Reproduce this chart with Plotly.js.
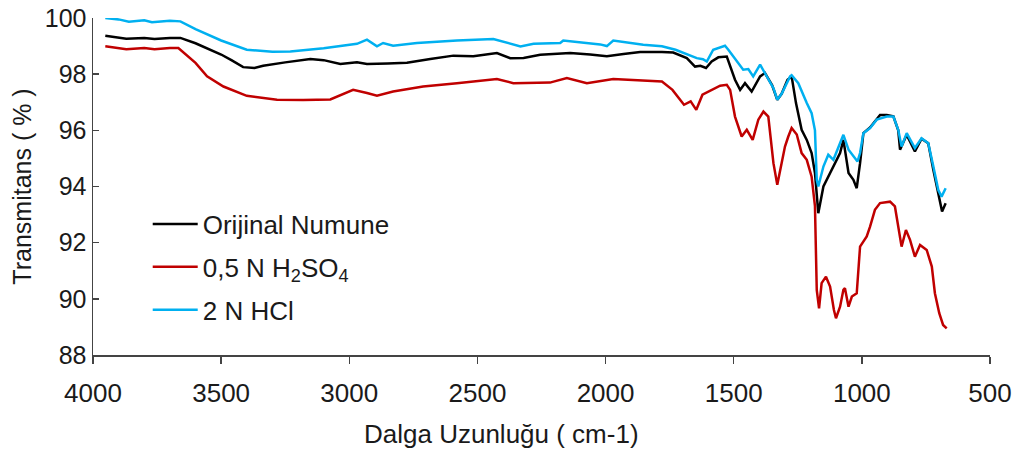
<!DOCTYPE html>
<html>
<head>
<meta charset="utf-8">
<script src="https://cdn.plot.ly/plotly-3.0.1.min.js"></script>
<style>html,body{margin:0;padding:0;background:#fff;}#chart{width:1013px;height:454px;}</style>
</head>
<body>
<div id="chart"></div>
<script>
// Orijinal Numune
const wnBlack = [3952,3900,3870,3800,3760,3700,3659,3600,3540,3500,3460,3414,3370,3336,3250,3152,3100,3035,2970,2931,2850,2775,2684,2594,2516,2424,2372,2320,2255,2138,2060,1995,1930,1865,1780,1736,1683,1651,1630,1608,1586,1560,1527,1514,1495,1475,1456,1430,1397,1378,1350,1330,1313,1290,1274,1257,1235,1215,1196,1183,1170,1150,1131,1111,1085,1072,1052,1033,1020,1007,994,968,942,929,903,877,858,851,825,793,767,741,721,698,687,673];
const tBlack  = [99.37,99.3,99.26,99.29,99.25,99.29,99.29,99.1,98.85,98.7,98.5,98.25,98.22,98.3,98.42,98.54,98.5,98.36,98.42,98.36,98.38,98.41,98.54,98.66,98.64,98.75,98.57,98.58,98.69,98.75,98.7,98.64,98.72,98.79,98.79,98.77,98.57,98.27,98.3,98.22,98.45,98.6,98.63,98.27,97.8,97.44,97.68,97.38,97.92,98.04,97.6,97.09,97.3,97.8,97.92,96.97,96.02,95.66,95.19,94.48,93.05,94.0,94.35,94.71,95.19,95.66,94.48,94.24,93.94,94.83,95.9,96.1,96.4,96.55,96.55,96.5,96.0,95.31,95.84,95.25,95.7,95.54,94.59,93.52,93.11,93.4];

// 0,5 N H2SO4
const wnRed = [3952,3900,3870,3800,3760,3700,3667,3600,3555,3491,3400,3282,3180,3074,3009,2985,2931,2892,2829,2712,2580,2424,2360,2217,2151,2073,1970,1840,1780,1739,1694,1668,1646,1622,1553,1527,1514,1495,1469,1449,1426,1404,1384,1365,1345,1330,1313,1300,1287,1274,1254,1235,1215,1196,1183,1176,1167,1157,1140,1124,1109,1101,1085,1072,1066,1052,1039,1020,1007,981,968,949,929,890,871,858,845,828,812,793,773,747,727,715,698,683,669];
const tRed  = [98.99,98.93,98.89,98.93,98.89,98.93,98.93,98.4,97.92,97.56,97.23,97.09,97.08,97.1,97.35,97.44,97.33,97.23,97.38,97.56,97.68,97.83,97.68,97.7,97.86,97.68,97.83,97.78,97.74,97.44,96.91,97.03,96.73,97.27,97.59,97.62,97.44,96.49,95.78,96.02,95.66,96.38,96.67,96.49,94.83,94.06,94.83,95.42,95.78,96.08,95.85,95.19,94.95,94.35,93.3,90.32,89.66,90.56,90.79,90.44,89.6,89.31,89.72,90.32,90.38,89.72,90.08,90.2,91.86,92.22,92.57,93.17,93.41,93.46,93.29,92.57,91.86,92.45,92.1,91.5,91.92,91.74,91.15,90.2,89.49,89.07,88.95];

// 2 N HCl
const wnBlue = [3952,3900,3860,3800,3770,3700,3659,3600,3500,3400,3300,3230,3100,3024,2970,2931,2892,2868,2829,2736,2580,2438,2385,2332,2281,2177,2165,2021,1995,1970,1853,1780,1727,1644,1620,1605,1580,1534,1521,1488,1463,1443,1424,1397,1371,1345,1330,1313,1280,1274,1248,1228,1215,1196,1183,1176,1170,1150,1131,1111,1091,1072,1052,1017,1007,994,968,942,903,877,858,845,825,793,767,741,721,702,689,673];
const tBlue  = [100.0,99.95,99.87,99.92,99.85,99.9,99.88,99.6,99.2,98.87,98.8,98.81,98.92,99.02,99.08,99.23,98.99,99.11,99.01,99.11,99.2,99.25,99.11,98.99,99.08,99.11,99.2,99.06,99.0,99.2,99.05,98.99,98.87,98.57,98.53,98.45,98.87,99.01,98.87,98.45,98.16,98.18,97.92,98.34,97.92,97.5,97.09,97.3,97.92,97.96,97.68,97.21,96.97,96.61,96.0,94.24,94.0,94.71,95.13,94.95,95.43,95.84,95.31,94.89,95.19,95.9,96.08,96.38,96.49,96.49,96.02,95.42,95.9,95.37,95.72,95.54,94.71,93.88,93.64,93.94];

const seriesNames = ["Orijinal Numune", "0,5 N H<sub>2</sub>SO<sub>4</sub>", "2 N HCl"];
const seriesColors = ["#000000", "#C00000", "#00B0F0"];
const xTickVals = [4000,3500,3000,2500,2000,1500,1000,500];
const yTickVals = [88,90,92,94,96,98,100];
const xTitle = "Dalga Uzunluğu ( cm-1)";
const yTitle = "Transmitans ( % )";

const FONT = "Liberation Sans, Arial, sans-serif";
const TXT = "#1a1a1a";

const xs = [wnBlack, wnRed, wnBlue];
const ys = [tBlack, tRed, tBlue];
const traces = xs.map((x, i) => ({
  x: x, y: ys[i], type: "scatter", mode: "lines",
  name: seriesNames[i], legendgroup: "g" + i,
  line: {color: seriesColors[i], width: 2.5}
}));

const layout = {
  width: 1013, height: 454,
  margin: {l: 93, r: 23, t: 18, b: 99},
  paper_bgcolor: "#fff", plot_bgcolor: "#fff",
  font: {family: FONT, size: 26, color: TXT},
  showlegend: true,
  legend: {x: 0.061, y: 0.458, xanchor: "left", yanchor: "top",
    font: {family: FONT, size: 26, color: TXT}, bgcolor: "rgba(0,0,0,0)",
    itemwidth: 45, tracegroupgap: 6, traceorder: "grouped"},
  xaxis: {range: [4000, 500], autorange: false, tickvals: xTickVals,
    ticks: "outside", ticklen: 7, tickwidth: 1.5, tickcolor: "#444",
    showline: true, linecolor: "#444", linewidth: 1.5,
    showgrid: false, zeroline: false, ticklabelstandoff: 7,
    tickfont: {family: FONT, size: 26, color: TXT}},
  yaxis: {range: [88, 100], autorange: false, tickvals: yTickVals,
    ticks: "inside", ticklen: 6, tickwidth: 1.5, tickcolor: "#444",
    showline: true, linecolor: "#444", linewidth: 1.5,
    showgrid: false, zeroline: false,
    title: {text: yTitle, font: {family: FONT, size: 25, color: TXT}, standoff: 6},
    tickfont: {family: FONT, size: 25, color: TXT}},
  annotations: [{text: xTitle, xref: "paper", yref: "paper", x: 0.455, y: -0.235,
    xanchor: "center", yanchor: "middle", showarrow: false,
    font: {family: FONT, size: 26, color: TXT}}]
};

Plotly.newPlot("chart", traces, layout, {displayModeBar: false, staticPlot: true});
</script>
</body>
</html>
